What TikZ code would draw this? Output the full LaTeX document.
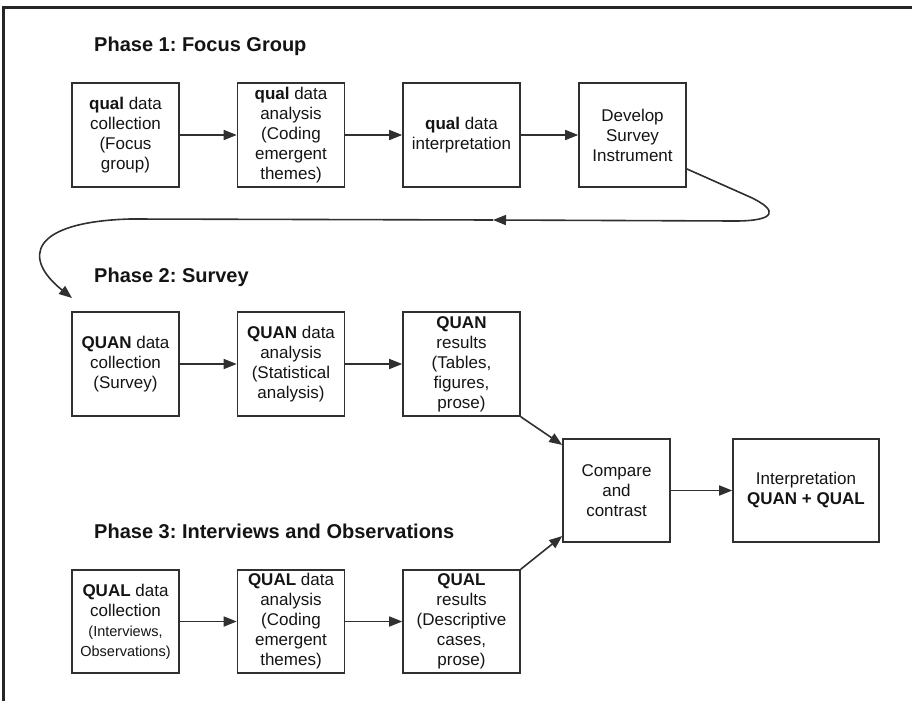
\documentclass[tikz,border=0pt]{standalone}
\usepackage{fontspec}
\setmainfont{Liberation Sans}
\usetikzlibrary{arrows.meta,calc}
\definecolor{linec}{HTML}{303030}
\definecolor{txtc}{HTML}{141414}
\frenchspacing
\begin{document}
\begin{tikzpicture}[x=1pt,y=-1pt,
  box/.style={draw=linec, line width=1.6pt, minimum width=107pt, minimum height=104pt,
    inner sep=0pt, align=center, font=\fontsize{17}{20}\selectfont, text=txtc},
  wide/.style={minimum width=117pt},
  phase/.style={anchor=base west, font=\fontsize{20}{24}\selectfont\bfseries, text=txtc, inner sep=0pt},
  arr/.style={draw=linec, line width=1.6pt, -{Triangle[length=13pt,width=10pt]}},
]
\useasboundingbox (0,0) rectangle (912,701);
\draw[line width=2.2pt, black!85] (912,7.5) -- (3.5,7.5) -- (3.5,701);

% Phase 1
\node[phase] (p1) at (94,52) {Phase 1: Focus Group};
\node[box] (a1) at (125.5,135) {\textbf{qual} data\\collection\\(Focus\\group)};
\node[box] (a2) at (291,135) {\textbf{qual} data\\analysis\\(Coding\\emergent\\themes)};
\node[box,wide] (a3) at (461.5,135) {\textbf{qual} data\\interpretation};
\node[box] (a4) at (632.5,135) {Develop\\Survey\\Instrument};

% Phase 2
\node[phase] (p2) at (94,282) {Phase 2: Survey};
\node[box] (b1) at (125.5,364) {\textbf{QUAN} data\\collection\\(Survey)};
\node[box] (b2) at (291,364) {\textbf{QUAN} data\\analysis\\(Statistical\\analysis)};
\node[box,wide] (b3) at (461.5,364) {\textbf{QUAN}\\results\\(Tables,\\figures,\\prose)};

% Phase 3
\node[phase] (p3) at (94,538) {Phase 3: Interviews and Observations};
\node[box,minimum height=103pt] (c1) at (125.5,621.5) {\textbf{QUAL} data\\collection\\{\fontsize{14.5}{20}\selectfont (Interviews,}\\{\fontsize{14.5}{20}\selectfont Observations)}};
\node[box,minimum height=103pt] (c2) at (291,621.5) {\textbf{QUAL} data\\analysis\\(Coding\\emergent\\themes)};
\node[box,wide,minimum height=103pt] (c3) at (461.5,621.5) {\textbf{QUAL}\\results\\(Descriptive\\cases,\\prose)};

% Merge
\node[box,minimum height=103pt] (cmp) at (616.5,490.5) {Compare\\and\\contrast};
\node[box,minimum width=146pt,minimum height=103pt] (int) at (806,490.5) {Interpretation\\\textbf{QUAN + QUAL}};

% Connectors
\draw[arr] (a1) -- (a2);
\draw[arr] (a2) -- (a3);
\draw[arr] (a3) -- (a4);
\draw[arr] (b1) -- (b2);
\draw[arr] (b2) -- (b3);
\draw[arr] (c1) -- (c2);
\draw[arr] (c2) -- (c3);
\draw[arr] (b3.south east) -- (cmp.140);
\draw[arr] (c3.north east) -- (cmp.220);
\draw[arr] (cmp) -- (int);

\coordinate (m) at (493,220);
\coordinate (t) at (72,298);
\draw[arr] (a4.-32) -- (750,197) .. controls (780,211) and (775,221) .. (735,221) -- (m);
\draw[arr] (m) -- (130,219) .. controls (30,222) and (22,258) .. (t);
\end{tikzpicture}
\end{document}
